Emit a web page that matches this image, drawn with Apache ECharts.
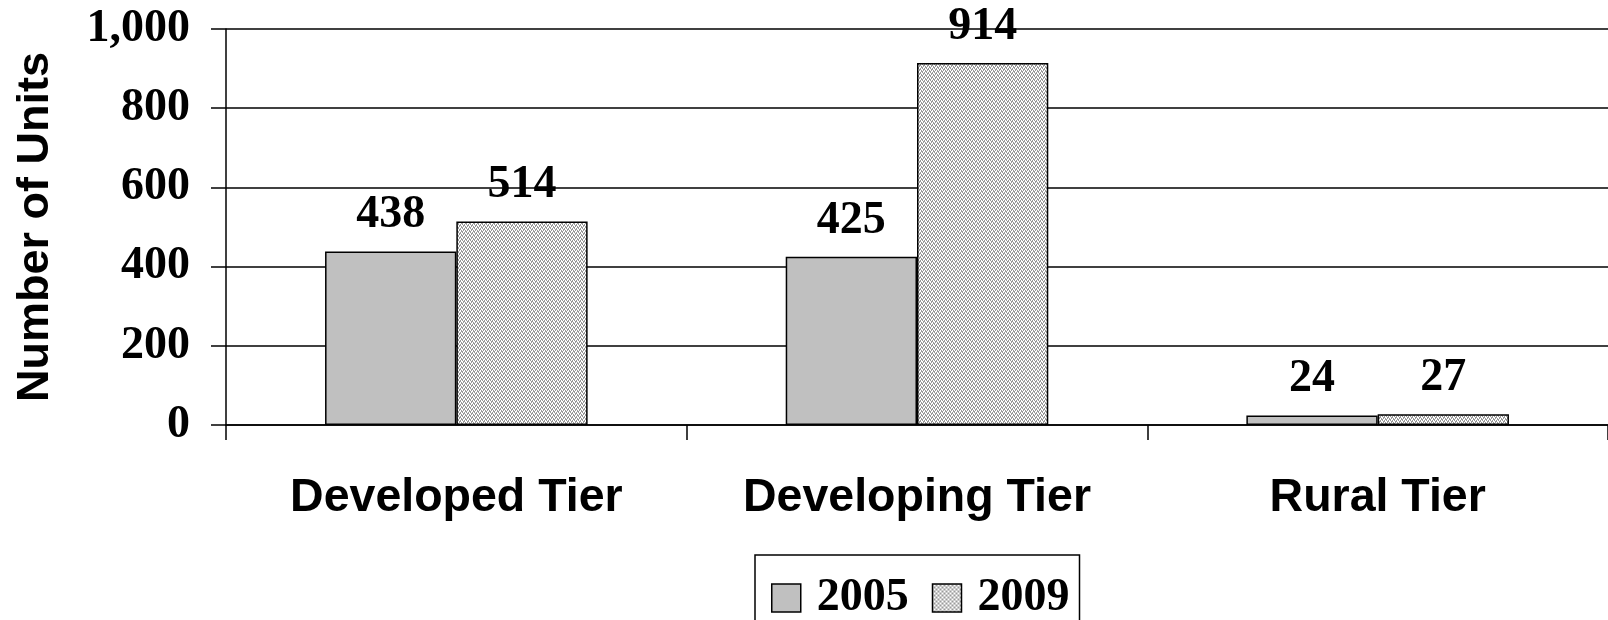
<!DOCTYPE html>
<html>
<head>
<meta charset="utf-8">
<title>Number of Units by Tier</title>
<script src="https://cdn.jsdelivr.net/npm/echarts@6/dist/echarts.min.js"></script>
<style>
  html, body { margin: 0; padding: 0; background: #fff; }
  #chart { width: 1608px; height: 620px; }
</style>
</head>
<body>
<div id="chart"></div>
<script>
// Chart data
const categories = ['Developed Tier', 'Developing Tier', 'Rural Tier'];
const seriesNames = ['2005', '2009'];
const values2005 = [438, 425, 24];
const values2009 = [514, 914, 27];
const yTicks = [0, 200, 400, 600, 800, 1000];

// Fine dotted fill for the 2009 bars
function makeDotPattern() {
  const c = document.createElement('canvas');
  c.width = 4; c.height = 4;
  const ctx = c.getContext('2d');
  ctx.fillStyle = '#ffffff';
  ctx.fillRect(0, 0, 4, 4);
  ctx.fillStyle = '#9a9a9a';
  const on = [[0,0],[2,0],[0,1],[3,1],[1,2],[3,2],[1,3],[2,3]];
  on.forEach(p => ctx.fillRect(p[0], p[1], 1, 1));
  return c;
}
const dotPattern = { image: makeDotPattern(), repeat: 'repeat' };

const serif = '"Liberation Serif", "Times New Roman", serif';
const sans = '"Liberation Sans", Arial, sans-serif';

const labelStyle = {
  show: true,
  position: 'top',
  distance: 13,
  fontFamily: serif,
  fontWeight: 'bold',
  fontSize: 46,
  color: '#000'
};

const chart = echarts.init(document.getElementById('chart'), null, { renderer: 'canvas' });
chart.setOption({
  animation: false,
  backgroundColor: '#ffffff',
  grid: { left: 226, right: 0, top: 29, bottom: 195, containLabel: false },
  legend: {
    data: seriesNames.map(n => ({ name: n, icon: 'rect' })),
    top: 555,
    left: 755,
    orient: 'horizontal',
    borderColor: '#000',
    borderWidth: 1.5,
    padding: [20, 10, 20, 16],
    itemWidth: 29,
    itemHeight: 28,
    itemGap: 23,
    itemStyle: { borderColor: '#000', borderWidth: 1.5 },
    textStyle: {
      fontFamily: serif,
      fontWeight: 'bold',
      fontSize: 46,
      color: '#000',
      padding: [0, 0, 0, 11]
    }
  },
  xAxis: {
    type: 'category',
    data: categories,
    boundaryGap: true,
    axisLine: { show: true, lineStyle: { color: '#000', width: 1.5 } },
    axisTick: { show: true, length: 15, lineStyle: { color: '#000', width: 1.5 } },
    axisLabel: {
      margin: 50,
      fontFamily: sans,
      fontWeight: 'bold',
      fontSize: 46.5,
      color: '#000'
    },
    splitLine: { show: false }
  },
  yAxis: {
    type: 'value',
    min: yTicks[0],
    max: yTicks[yTicks.length - 1],
    interval: yTicks[1] - yTicks[0],
    name: 'Number of Units',
    nameLocation: 'middle',
    nameGap: 168,
    nameRotate: 90,
    nameTextStyle: {
      fontFamily: sans,
      fontWeight: 'bold',
      fontSize: 45,
      color: '#000'
    },
    axisLine: { show: true, lineStyle: { color: '#000', width: 1.5 } },
    axisTick: { show: true, length: 15, lineStyle: { color: '#000', width: 1.5 } },
    axisLabel: {
      margin: 36,
      fontFamily: serif,
      fontWeight: 'bold',
      fontSize: 46,
      color: '#000',
      formatter: v => v.toLocaleString('en-US')
    },
    splitLine: { show: true, lineStyle: { color: '#000', width: 1.5 } }
  },
  series: [
    {
      name: seriesNames[0],
      type: 'bar',
      data: values2005,
      barGap: '0%',
      barCategoryGap: '43%',
      itemStyle: { color: '#c0c0c0', borderColor: '#000', borderWidth: 1.5 },
      label: labelStyle
    },
    {
      name: seriesNames[1],
      type: 'bar',
      data: values2009,
      barGap: '0%',
      barCategoryGap: '43%',
      itemStyle: { color: dotPattern, borderColor: '#000', borderWidth: 1.5 },
      label: labelStyle
    }
  ]
});
</script>
</body>
</html>
